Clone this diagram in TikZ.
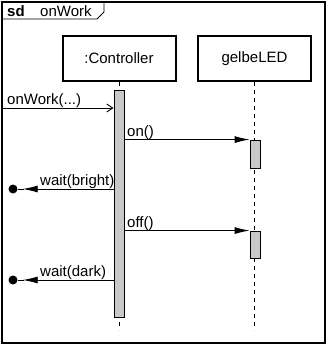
\documentclass[tikz,border=0pt]{standalone}
\usepackage{fontspec}
\setmainfont{Liberation Sans}
\usetikzlibrary{arrows.meta,positioning,calc}
\definecolor{barfill}{RGB}{200,200,200}
\tikzset{
  obj/.style={draw,line width=2pt,minimum width=113pt,minimum height=45pt,inner sep=0pt,font=\fontsize{15}{18}\selectfont},
  act/.style={draw,fill=barfill,line width=0.9pt,minimum width=10pt,inner sep=0pt},
  life/.style={dash pattern=on 4pt off 4pt,line width=0.9pt},
  call/.style={-{Latex[length=15pt,width=7pt]},line width=0.9pt},
  found/.style={-{Straight Barb[length=6pt,width=8pt]},line width=0.9pt},
  lbl/.style={font=\fontsize{15}{18}\selectfont,inner sep=0pt},
  ball/.style={circle,fill,inner sep=0pt,minimum size=9pt}
}
\begin{document}
\begin{tikzpicture}[x=1pt,y=-1pt]
  \useasboundingbox (0,0) rectangle (333,351);
  % frame and tab
  \draw[line width=1.2pt] (2,2) rectangle (325,343);
  \draw[line width=0.9pt] (2,19) -- (97,19) -- (104,12) -- (104,2);
  \node[lbl,anchor=base west,font=\fontsize{15}{18}\selectfont\bfseries] (sd) at (7,16) {sd};
  \node[lbl,anchor=base west] (sdname) at (40,16) {onWork};

  % objects
  \node[obj] (ctl) at (119,58.5) {:Controller};
  \node[obj] (led) at (254.5,58.5) {gelbeLED};
  \coordinate (ctlend) at (119,330);
  \coordinate (ledend) at (254.5,330);
  \draw[life] (ctl.south) -- (ctlend);
  \draw[life] (led.south) -- (ledend);

  % activations
  \node[act,minimum height=227pt] (cbar) at (119,203.5) {};
  \node[act,minimum height=28pt] (lbar1) at (255,154) {};
  \node[act,minimum height=27pt] (lbar2) at (255,244.5) {};

  % messages
  \coordinate (in1) at (2,108);
  \draw[found] (in1) -- (in1 -| cbar.west);
  \node[lbl,anchor=base west] (m1) at (7,104) {onWork(...)};

  \draw[call] (lbar1.north west -| cbar.east) -- (lbar1.north west);
  \node[lbl,anchor=base west] (m2) at (127,136) {on()};

  \node[ball] (ball1) at (13,189) {};
  \draw[call,shorten >=5pt] (cbar.west |- ball1) -- (ball1.east);
  \draw[line width=0.9pt] (ball1.east) -- ++(6,0);
  \node[lbl,anchor=base west] (m3) at (40,185) {wait(bright)};

  \draw[call] (lbar2.north west -| cbar.east) -- (lbar2.north west);
  \node[lbl,anchor=base west] (m4) at (127,227) {off()};

  \node[ball] (ball2) at (13,280) {};
  \draw[call,shorten >=5pt] (cbar.west |- ball2) -- (ball2.east);
  \draw[line width=0.9pt] (ball2.east) -- ++(6,0);
  \node[lbl,anchor=base west] (m5) at (40,276) {wait(dark)};
\end{tikzpicture}
\end{document}
